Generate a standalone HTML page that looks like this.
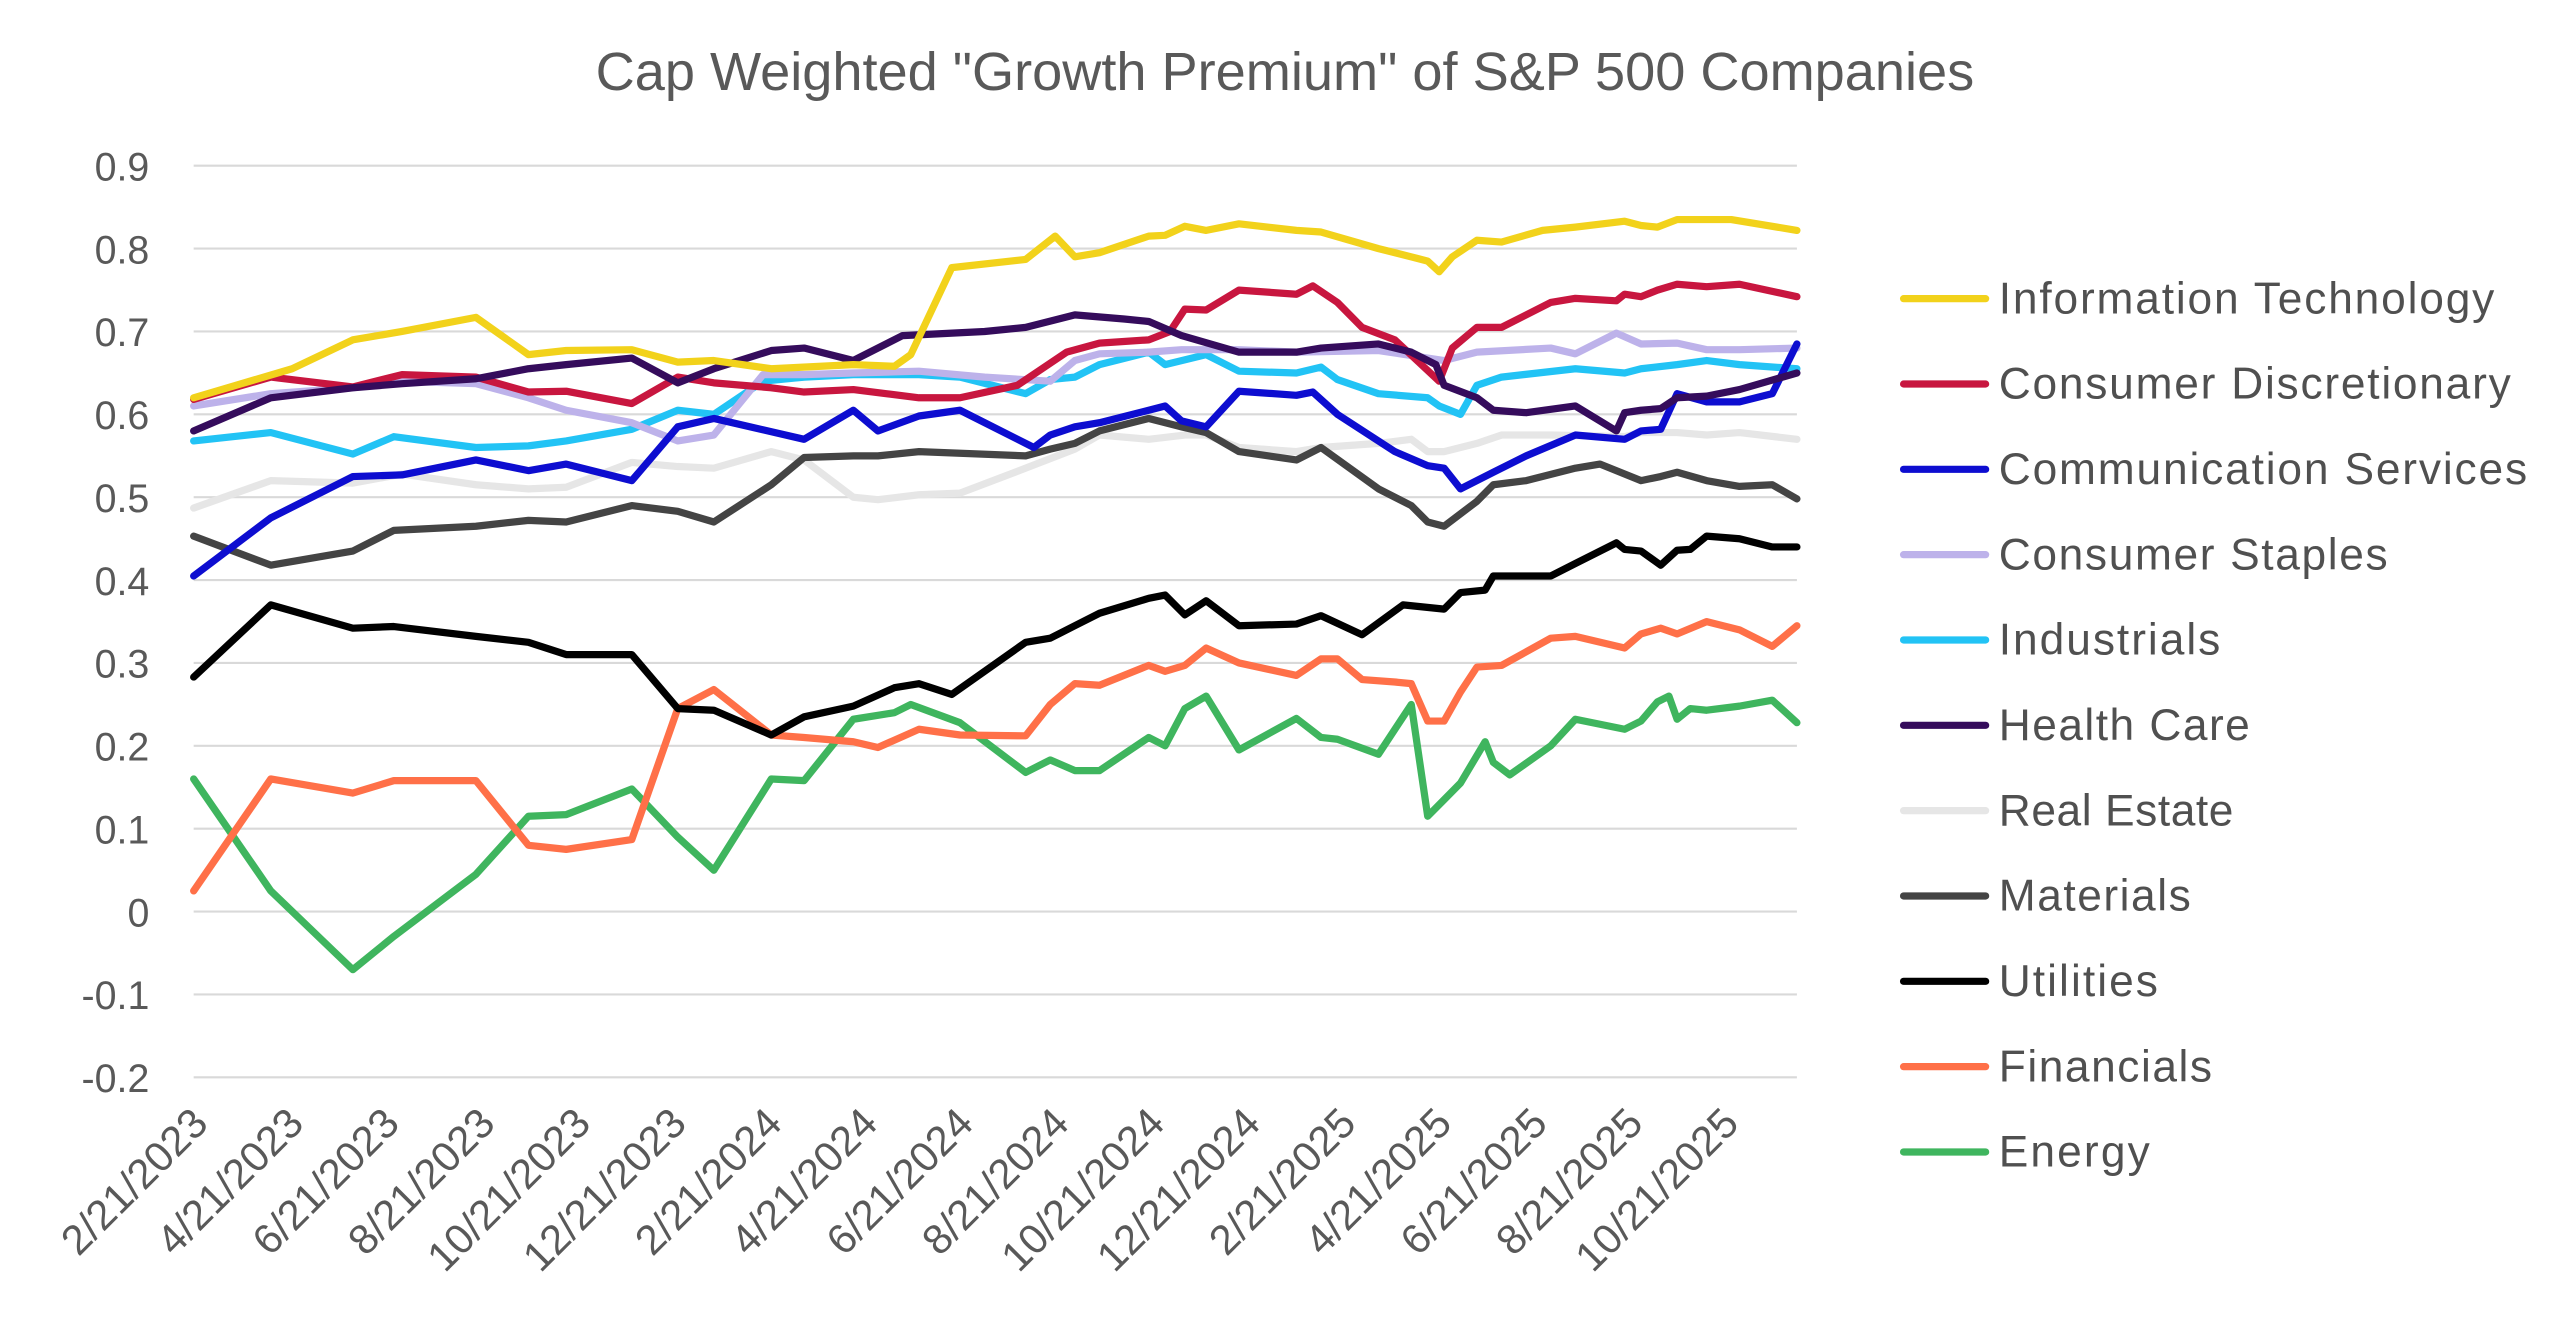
<!DOCTYPE html>
<html><head><meta charset="utf-8"><style>html,body{margin:0;padding:0;background:#fff;}svg{display:block}</style></head>
<body>
<svg id="s" width="2560" height="1332" viewBox="0 0 1560 811.7" xmlns="http://www.w3.org/2000/svg" font-family="Liberation Sans, sans-serif">
<rect width="1560" height="812" fill="#fff"/>
<text x="783" y="55" text-anchor="middle" font-size="33" fill="#595959">Cap Weighted "Growth Premium" of S&amp;P 500 Companies</text>
<g stroke="#d9d9d9" stroke-width="1.3">
<line x1="118" x2="1095" y1="101" y2="101"/><line x1="118" x2="1095" y1="151.5" y2="151.5"/><line x1="118" x2="1095" y1="202" y2="202"/><line x1="118" x2="1095" y1="252.5" y2="252.5"/><line x1="118" x2="1095" y1="303" y2="303"/><line x1="118" x2="1095" y1="353.5" y2="353.5"/><line x1="118" x2="1095" y1="404" y2="404"/><line x1="118" x2="1095" y1="454.5" y2="454.5"/><line x1="118" x2="1095" y1="505" y2="505"/><line x1="118" x2="1095" y1="555.5" y2="555.5"/><line x1="118" x2="1095" y1="606" y2="606"/><line x1="118" x2="1095" y1="656.5" y2="656.5"/>
</g>
<g font-size="24" fill="#595959" text-anchor="end">
<text x="91" y="110">0.9</text><text x="91" y="160.5">0.8</text><text x="91" y="211">0.7</text><text x="91" y="261.5">0.6</text><text x="91" y="312">0.5</text><text x="91" y="362.5">0.4</text><text x="91" y="413">0.3</text><text x="91" y="463.5">0.2</text><text x="91" y="514">0.1</text><text x="91" y="564.5">0</text><text x="91" y="615">-0.1</text><text x="91" y="665.5">-0.2</text>
</g>
<g id="xl" font-size="25.5" fill="#595959" text-anchor="end">
<text transform="translate(128,686) rotate(-45)">2/21/2023</text>
<text transform="translate(186.3,686) rotate(-45)">4/21/2023</text>
<text transform="translate(244.6,686) rotate(-45)">6/21/2023</text>
<text transform="translate(302.9,686) rotate(-45)">8/21/2023</text>
<text transform="translate(361.2,686) rotate(-45)">10/21/2023</text>
<text transform="translate(419.5,686) rotate(-45)">12/21/2023</text>
<text transform="translate(477.8,686) rotate(-45)">2/21/2024</text>
<text transform="translate(536.1,686) rotate(-45)">4/21/2024</text>
<text transform="translate(594.4,686) rotate(-45)">6/21/2024</text>
<text transform="translate(652.7,686) rotate(-45)">8/21/2024</text>
<text transform="translate(711,686) rotate(-45)">10/21/2024</text>
<text transform="translate(769.3,686) rotate(-45)">12/21/2024</text>
<text transform="translate(827.6,686) rotate(-45)">2/21/2025</text>
<text transform="translate(885.9,686) rotate(-45)">4/21/2025</text>
<text transform="translate(944.2,686) rotate(-45)">6/21/2025</text>
<text transform="translate(1002.5,686) rotate(-45)">8/21/2025</text>
<text transform="translate(1060.8,686) rotate(-45)">10/21/2025</text>
</g>
<g id="series" fill="none" stroke-width="4.4" stroke-linejoin="round" stroke-linecap="round"></g>
<g stroke-width="4.4" stroke-linecap="round">
<line x1="1160" x2="1210" y1="182" y2="182" stroke="#f2d21b"/>
<line x1="1160" x2="1210" y1="234" y2="234" stroke="#c8163f"/>
<line x1="1160" x2="1210" y1="286" y2="286" stroke="#0d0dd0"/>
<line x1="1160" x2="1210" y1="338" y2="338" stroke="#bdb2ea"/>
<line x1="1160" x2="1210" y1="390" y2="390" stroke="#22c3f5"/>
<line x1="1160" x2="1210" y1="442" y2="442" stroke="#350c5c"/>
<line x1="1160" x2="1210" y1="494" y2="494" stroke="#e6e6e6"/>
<line x1="1160" x2="1210" y1="546" y2="546" stroke="#444444"/>
<line x1="1160" x2="1210" y1="598" y2="598" stroke="#000000"/>
<line x1="1160" x2="1210" y1="650" y2="650" stroke="#ff7048"/>
<line x1="1160" x2="1210" y1="702" y2="702" stroke="#3fb55e"/>
</g>
<g font-size="27" fill="#505050">
<text x="1218" y="191" textLength="302">Information Technology</text>
<text x="1218" y="243" textLength="312">Consumer Discretionary</text>
<text x="1218" y="295" textLength="322">Communication Services</text>
<text x="1218" y="347" textLength="237">Consumer Staples</text>
<text x="1218" y="399" textLength="135">Industrials</text>
<text x="1218" y="451" textLength="153">Health Care</text>
<text x="1218" y="503" textLength="143">Real Estate</text>
<text x="1218" y="555" textLength="117">Materials</text>
<text x="1218" y="607" textLength="97">Utilities</text>
<text x="1218" y="659" textLength="130">Financials</text>
<text x="1218" y="711" textLength="92">Energy</text>
</g>
</svg>
<script>
var S=[
["#e6e6e6",[118,0.487,165,0.52,215,0.517,245,0.528,290,0.515,322,0.51,345,0.512,385,0.542,413,0.537,435,0.535,470,0.555,490,0.545,520,0.5,535,0.497,560,0.503,585,0.505,625,0.535,655,0.558,670,0.575,700,0.57,722,0.575,735,0.575,755,0.56,790,0.555,805,0.56,840,0.565,860,0.57,870,0.555,880,0.555,900,0.565,915,0.575,945,0.575,990,0.573,1000,0.578,1022,0.578,1040,0.575,1060,0.578,1095,0.57]],
["#444444",[118,0.453,165,0.418,215,0.435,240,0.46,290,0.465,322,0.472,345,0.47,385,0.49,413,0.483,435,0.47,470,0.515,490,0.548,520,0.55,535,0.55,560,0.555,625,0.55,640,0.558,655,0.565,670,0.58,700,0.595,720,0.585,735,0.578,755,0.555,790,0.545,805,0.56,840,0.51,860,0.49,870,0.47,880,0.465,900,0.495,910,0.515,930,0.52,960,0.535,975,0.54,1000,0.52,1012,0.525,1022,0.53,1040,0.52,1060,0.513,1080,0.515,1095,0.498]],
["#3fb55e",[118,0.16,165,0.025,215,-0.07,240,-0.03,290,0.045,322,0.115,345,0.117,385,0.148,413,0.09,435,0.05,470,0.16,490,0.158,520,0.232,545,0.24,555,0.25,585,0.228,625,0.168,640,0.183,655,0.17,670,0.17,700,0.21,710,0.2,722,0.245,735,0.26,755,0.195,790,0.233,805,0.21,815,0.208,840,0.19,860,0.25,870,0.115,880,0.135,890,0.155,905,0.205,910,0.18,920,0.165,945,0.2,960,0.232,990,0.22,1000,0.23,1010,0.253,1017,0.26,1022,0.232,1030,0.245,1040,0.243,1060,0.248,1080,0.255,1095,0.228]],
["#ff7048",[118,0.025,165,0.16,215,0.143,240,0.158,290,0.158,322,0.08,345,0.075,385,0.087,413,0.245,435,0.268,470,0.213,490,0.21,520,0.205,535,0.198,560,0.22,585,0.213,625,0.212,640,0.25,655,0.275,670,0.273,700,0.297,710,0.29,722,0.297,735,0.318,755,0.3,790,0.285,805,0.305,815,0.305,830,0.28,850,0.277,860,0.275,870,0.23,880,0.23,890,0.265,900,0.295,915,0.297,945,0.33,960,0.332,990,0.318,1000,0.335,1012,0.342,1022,0.335,1040,0.35,1060,0.34,1080,0.32,1095,0.345]],
["#000000",[118,0.283,165,0.37,215,0.342,240,0.344,290,0.332,322,0.325,345,0.31,385,0.31,413,0.245,435,0.243,470,0.213,490,0.235,520,0.248,545,0.27,560,0.275,580,0.262,625,0.325,640,0.33,655,0.345,670,0.36,700,0.378,710,0.382,722,0.358,735,0.375,755,0.345,790,0.347,805,0.357,830,0.334,855,0.37,880,0.365,890,0.385,905,0.388,910,0.405,945,0.405,960,0.42,985,0.445,990,0.437,1000,0.435,1012,0.418,1022,0.436,1030,0.437,1040,0.453,1060,0.45,1080,0.44,1095,0.44]],
["#22c3f5",[118,0.568,165,0.578,215,0.552,240,0.573,290,0.56,322,0.562,345,0.568,385,0.582,413,0.605,435,0.6,465,0.64,490,0.645,520,0.648,560,0.648,585,0.645,625,0.625,640,0.642,655,0.645,670,0.66,700,0.675,710,0.66,735,0.672,755,0.652,790,0.65,805,0.657,815,0.642,840,0.625,870,0.62,877,0.61,890,0.6,900,0.635,915,0.645,960,0.655,990,0.65,1000,0.655,1022,0.66,1040,0.665,1060,0.66,1095,0.655]],
["#bdb2ea",[118,0.61,165,0.625,215,0.632,245,0.64,290,0.637,322,0.62,345,0.605,385,0.59,413,0.568,435,0.575,465,0.648,490,0.648,520,0.65,560,0.652,600,0.645,640,0.64,655,0.665,670,0.673,700,0.675,720,0.678,755,0.678,790,0.675,840,0.677,880,0.665,900,0.675,945,0.68,960,0.673,985,0.698,1000,0.685,1022,0.686,1040,0.678,1060,0.678,1095,0.68]],
["#0d0dd0",[118,0.405,165,0.475,215,0.525,245,0.527,290,0.545,322,0.532,345,0.54,385,0.52,413,0.585,435,0.595,490,0.57,520,0.605,535,0.58,560,0.598,585,0.605,630,0.56,640,0.575,655,0.585,670,0.59,700,0.605,710,0.61,720,0.592,735,0.585,755,0.628,790,0.623,800,0.627,815,0.6,850,0.555,870,0.538,880,0.535,890,0.51,910,0.53,930,0.55,960,0.575,990,0.57,1000,0.58,1012,0.582,1022,0.625,1040,0.615,1060,0.615,1080,0.625,1095,0.685]],
["#c8163f",[118,0.618,165,0.645,215,0.633,245,0.648,290,0.645,322,0.627,345,0.628,385,0.613,413,0.645,435,0.638,470,0.632,490,0.627,520,0.63,540,0.625,560,0.62,585,0.62,620,0.635,650,0.675,670,0.686,700,0.69,713,0.70,722,0.727,735,0.726,755,0.75,790,0.745,800,0.755,815,0.735,830,0.705,850,0.69,877,0.64,885,0.68,900,0.705,915,0.705,945,0.735,960,0.74,985,0.737,990,0.745,1000,0.742,1010,0.75,1022,0.757,1040,0.754,1060,0.757,1095,0.742]],
["#350c5c",[118,0.58,165,0.62,215,0.632,245,0.637,290,0.643,322,0.655,345,0.66,385,0.668,413,0.638,435,0.655,470,0.677,490,0.68,520,0.665,550,0.695,600,0.7,625,0.705,655,0.72,685,0.715,700,0.712,720,0.695,755,0.675,790,0.675,805,0.68,840,0.685,860,0.675,875,0.66,880,0.635,900,0.62,910,0.605,930,0.602,960,0.61,985,0.58,990,0.602,1000,0.605,1012,0.607,1022,0.62,1040,0.622,1060,0.63,1095,0.65]],
["#f2d21b",[118,0.62,178,0.655,215,0.69,245,0.70,290,0.717,322,0.672,345,0.677,385,0.678,413,0.663,435,0.665,470,0.655,520,0.66,545,0.658,555,0.672,580,0.777,625,0.787,643,0.815,655,0.79,670,0.795,700,0.815,710,0.816,722,0.827,735,0.822,755,0.83,790,0.822,805,0.82,840,0.80,860,0.79,870,0.785,877,0.772,885,0.79,900,0.81,915,0.808,940,0.822,960,0.826,990,0.833,1000,0.828,1010,0.826,1022,0.835,1055,0.835,1095,0.822]]
];
var g=document.getElementById('series'),ns='http://www.w3.org/2000/svg';
S.forEach(function(s){var p=[],d=s[1];for(var i=0;i<d.length;i+=2)p.push(d[i]+','+(555.5-d[i+1]*505).toFixed(1));
var e=document.createElementNS(ns,'polyline');e.setAttribute('points',p.join(' '));e.setAttribute('stroke',s[0]);g.appendChild(e);});
</script>
</body></html>
